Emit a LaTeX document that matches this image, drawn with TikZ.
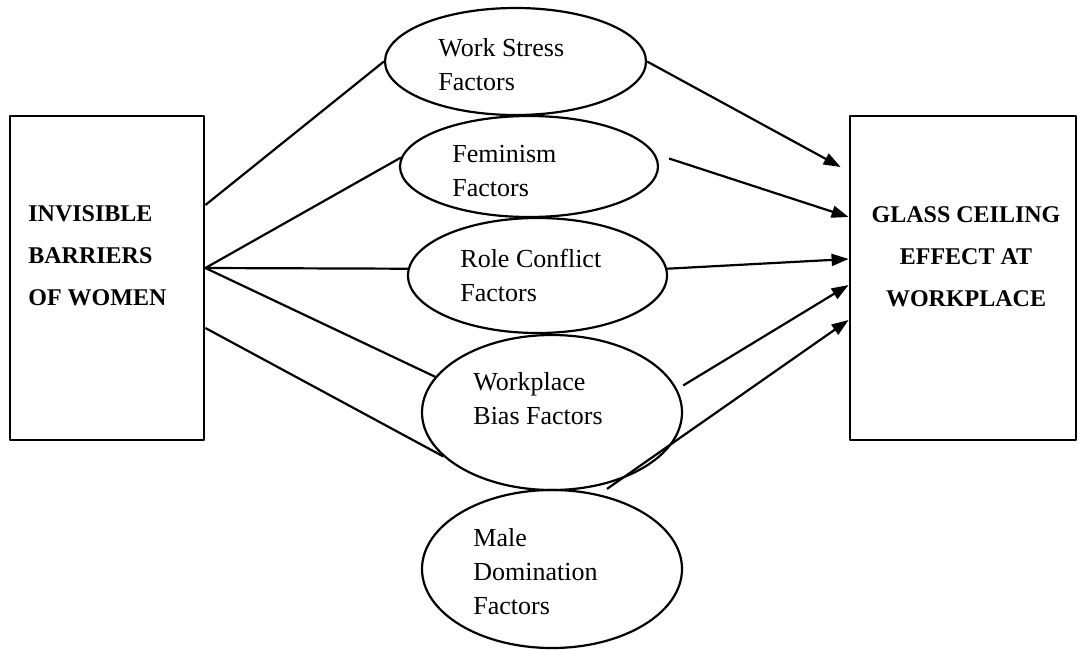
\documentclass[tikz,border=0pt]{standalone}
\usepackage{fontspec}
\setmainfont{Liberation Serif}
\usetikzlibrary{shapes.geometric,arrows.meta,calc}
\begin{document}
\begin{tikzpicture}[x=0.5pt, y=-0.5pt, line join=round, >={Triangle[length=8.5pt,width=6pt]}]
			\tikzset{factor/.style={draw, ellipse, line width=1.1pt, inner sep=0pt},
				ftext/.style={anchor=west, align=left, inner sep=0pt, font=\fontsize{13}{17}\selectfont},
				bigbox/.style={draw, line width=1.4pt, inner sep=0pt, minimum height=162pt},
				btext/.style={inner sep=0pt, font=\fontsize{12}{21}\selectfont\bfseries},
				link/.style={line width=1.1pt}}
			\useasboundingbox (0,0) rectangle (1079,649);
			% the two boxes
			\node[bigbox, minimum width=97pt] (ibw) at (107,278) {};
			\node[bigbox, minimum width=113pt] (gce) at (963,278) {};
			\node[btext, anchor=west, align=left] (ibwt) at (28,256) {INVISIBLE\\BARRIERS\\OF WOMEN};
			\node[btext, align=center] (gcet) at (966,257) {GLASS CEILING\\EFFECT AT\\WORKPLACE};
			% the factors
			\node[factor, minimum width=130.5pt, minimum height=53.5pt] (ws) at (515.5,61.5) {};
			\node[factor, minimum width=129pt, minimum height=50.5pt] (fem) at (529,166.5) {};
			\node[factor, minimum width=129.5pt, minimum height=57.5pt] (rc) at (537.5,275.5) {};
			\node[factor, minimum width=130pt, minimum height=77.5pt] (wb) at (552,412.5) {};
			\node[factor, minimum width=130pt, minimum height=79pt] (md) at (552,569) {};
			\node[ftext] (wsl) at (438,64.5) {Work Stress\\Factors};
			\node[ftext] (feml) at (452,171.5) {Feminism\\Factors};
			\node[ftext] (rcl) at (460,275) {Role Conflict\\Factors};
			\node[ftext] (wbl) at (473,399) {Workplace\\Bias Factors};
			\node[ftext] (mdl) at (473,571.5) {Male\\Domination\\Factors};
			% lines out of the left box
			\draw[link] ($(ibw.east)+(0,-73)$) -- (ws.west);
			\draw[link] ($(ibw.east)+(0,-10)$) -- (fem.176);
			\draw[link] ($(ibw.east)+(0,-10)$) -- (rc.177);
			\draw[link] ($(ibw.east)+(0,-10)$) -- (wb.163);
			\draw[link] ($(ibw.east)+(0,50)$) -- (wb.202);
			% arrows into the right box
			\draw[link,->] (ws.east) -- ($(gce.west)+(-8,-111)$);
			\draw[link,->] ($(fem.east)+(10,-8)$) -- ($(gce.west)+(0,-61)$);
			\draw[link,->] (rc.3) -- ($(gce.west)+(0,-19)$);
			\draw[link,->] ($(wb.east)+(0,-27)$) -- ($(gce.west)+(0,7)$);
			\draw[link,->] ($(md.north)+(55,0)$) -- ($(gce.west)+(0,42)$);
		\end{tikzpicture}
\end{document}
